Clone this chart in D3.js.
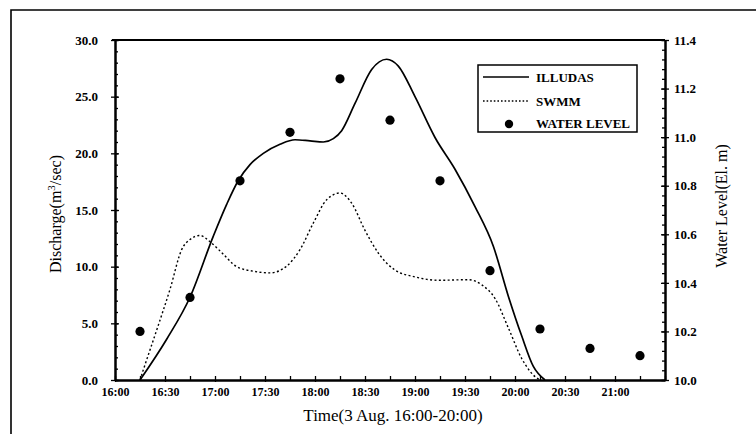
<!DOCTYPE html>
<html>
<head>
<meta charset="utf-8">
<script src="https://cdn.jsdelivr.net/npm/d3@7"></script>
<style>
  html, body { margin: 0; padding: 0; background: #fff; }
  svg { display: block; }
  text { font-family: "Liberation Serif", "DejaVu Serif", serif; fill: #000; }
</style>
</head>
<body>
<script>
// ---------- data ----------
const illudasTimes = ["16:15","16:31","16:45","16:59","17:07","17:14","17:21","17:29","17:39","17:48","17:57","18:05","18:11","18:16","18:24","18:34","18:43","18:50","19:00","19:12","19:24","19:36","19:47","19:56","20:04","20:11","20:18"];
const illudasQ     = [0, 3.6, 7.3, 12.7, 15.5, 17.6, 19.0, 20.0, 20.8, 21.2, 21.1, 21.0, 21.3, 22.0, 24.4, 27.4, 28.3, 27.7, 25.0, 21.4, 18.6, 15.3, 11.8, 7.4, 3.9, 1.2, 0];

const swmmTimes = ["16:15","16:17","16:25","16:33","16:40","16:45","16:51","16:57","17:05","17:13","17:23","17:33","17:43","17:51","17:59","18:07","18:15","18:22","18:30","18:38","18:48","19:00","19:14","19:32","19:40","19:48","19:56","20:04","20:12","20:15"];
const swmmQ     = [0, 0.9, 4.4, 8.0, 11.5, 12.4, 12.75, 12.2, 11.1, 10.0, 9.6, 9.45, 10.05, 11.5, 13.85, 15.9, 16.5, 15.6, 13.2, 11.2, 9.7, 9.1, 8.8, 8.85, 8.4, 7.2, 4.6, 1.9, 0.3, 0];

const levelTimes = ["16:15","16:45","17:15","17:45","18:15","18:45","19:15","19:45","20:15","20:45","21:15"];
const levelValues = [10.20, 10.34, 10.82, 11.02, 11.24, 11.07, 10.82, 10.45, 10.21, 10.13, 10.10];

const xTickLabels = ["16:00","16:30","17:00","17:30","18:00","18:30","19:00","19:30","20:00","20:30","21:00"];
const leftTicks = [0, 5, 10, 15, 20, 25, 30];
const rightTicks = [10.0, 10.2, 10.4, 10.6, 10.8, 11.0, 11.2, 11.4];
const legendLabels = ["ILLUDAS", "SWMM", "WATER LEVEL"];

// ---------- layout ----------
const W = 756, H = 434;
const L = 115, R = 665, T = 40, B = 380;
const parse = d3.timeParse("%H:%M");

const svg = d3.select("body").append("svg").attr("width", W).attr("height", H);

const x = d3.scaleTime().domain([parse("16:00"), parse("21:30")]).range([L, R]);
const yL = d3.scaleLinear().domain([0, 30]).range([B, T]);
const yR = d3.scaleLinear().domain([10, 11.4]).range([B, T]);

// outer scanned frame
svg.append("path").attr("d", `M11,${H} V10 H${W}`)
  .attr("fill", "none").attr("stroke", "#000").attr("stroke-width", 1.6);

// top border of plot
svg.append("line").attr("x1", L - 3).attr("x2", R).attr("y1", T).attr("y2", T)
  .attr("stroke", "#000").attr("stroke-width", 2);

// ---------- axes ----------
function styleAxis(g, fontSize) {
  g.selectAll(".domain").attr("stroke", "#000").attr("stroke-width", 2);
  g.selectAll(".tick line").attr("stroke", "#000").attr("stroke-width", 1.3);
  g.selectAll("text").style("font-family", "'Liberation Serif', serif")
    .style("font-weight", "bold").style("font-size", fontSize + "px").attr("fill", "#000");
}

// x axis: minor 15-min ticks inward
const xMinor = d3.timeMinute.every(15).range(parse("16:00"), parse("21:31"));
const gxMinor = svg.append("g").attr("transform", `translate(0,${B})`)
  .call(d3.axisBottom(x).tickValues(xMinor).tickSizeInner(-4).tickSizeOuter(0).tickFormat(""));
styleAxis(gxMinor, 12);
const gx = svg.append("g").attr("transform", `translate(0,${B})`)
  .call(d3.axisBottom(x).tickValues(xTickLabels.map(parse)).tickSizeInner(2).tickSizeOuter(0)
    .tickPadding(5).tickFormat(d3.timeFormat("%H:%M")));
styleAxis(gx, 12);

// left axis
const gyLMinor = svg.append("g").attr("transform", `translate(${L},0)`)
  .call(d3.axisLeft(yL).tickValues(d3.range(0, 31, 1)).tickSizeInner(-3).tickSizeOuter(0).tickFormat(""));
styleAxis(gyLMinor, 13);
const gyL = svg.append("g").attr("transform", `translate(${L},0)`)
  .call(d3.axisLeft(yL).tickValues(leftTicks).tickSizeInner(4).tickSizeOuter(0)
    .tickPadding(13).tickFormat(d3.format(".1f")));
styleAxis(gyL, 13);
gyL.selectAll(".tick").append("line").attr("x2", 4).attr("stroke", "#000").attr("stroke-width", 1.3);

// right axis
const gyRMinor = svg.append("g").attr("transform", `translate(${R},0)`)
  .call(d3.axisRight(yR).tickValues(d3.range(0, 36).map(i => 10 + i * 0.04)).tickSizeInner(-3).tickSizeOuter(0).tickFormat(""));
styleAxis(gyRMinor, 13);
const gyR = svg.append("g").attr("transform", `translate(${R},0)`)
  .call(d3.axisRight(yR).tickValues(rightTicks).tickSizeInner(4).tickSizeOuter(0)
    .tickPadding(5).tickFormat(d3.format(".1f")));
styleAxis(gyR, 13);
gyR.selectAll(".tick").append("line").attr("x2", -4).attr("stroke", "#000").attr("stroke-width", 1.3);

// ---------- series ----------
const illudas = illudasTimes.map((t, i) => ({ t: parse(t), v: illudasQ[i] }));
const swmm = swmmTimes.map((t, i) => ({ t: parse(t), v: swmmQ[i] }));
const level = levelTimes.map((t, i) => ({ t: parse(t), v: levelValues[i] }));

const line = d3.line().x(d => x(d.t)).y(d => yL(d.v)).curve(d3.curveMonotoneX);

svg.append("path").datum(illudas).attr("d", line)
  .attr("fill", "none").attr("stroke", "#000").attr("stroke-width", 1.7);
svg.append("path").datum(swmm).attr("d", line)
  .attr("fill", "none").attr("stroke", "#000").attr("stroke-width", 1.4)
  .attr("stroke-dasharray", "2,2.4");

svg.append("g").selectAll("circle").data(level).join("circle")
  .attr("cx", d => x(d.t)).attr("cy", d => yR(d.v)).attr("r", 4.6).attr("fill", "#000");

// ---------- legend ----------
const lg = svg.append("g");
lg.append("rect").attr("x", 478).attr("y", 65).attr("width", 159).attr("height", 67)
  .attr("fill", "#fff").attr("stroke", "#000").attr("stroke-width", 1.5);
const ly = [77, 101, 123];
lg.append("line").attr("x1", 483).attr("x2", 529).attr("y1", ly[0]).attr("y2", ly[0])
  .attr("stroke", "#000").attr("stroke-width", 1.4);
lg.append("line").attr("x1", 483).attr("x2", 529).attr("y1", ly[1]).attr("y2", ly[1])
  .attr("stroke", "#000").attr("stroke-width", 1.3).attr("stroke-dasharray", "1.6,2");
lg.append("circle").attr("cx", 509).attr("cy", ly[2] + 1).attr("r", 4.2).attr("fill", "#000");
lg.selectAll("text.leg").data(legendLabels).join("text").attr("class", "leg")
  .attr("x", 536).attr("y", (d, i) => ly[i] + 4.5)
  .style("font-weight", "bold").style("font-size", "13px").text(d => d);

// ---------- axis titles ----------
const leftTitle = svg.append("text")
  .attr("transform", `translate(61,${(T + B) / 2 + 4}) rotate(-90)`)
  .attr("text-anchor", "middle").style("font-size", "16px");
leftTitle.append("tspan").text("Discharge(m");
leftTitle.append("tspan").attr("dy", -6).style("font-size", "11px").text("3");
leftTitle.append("tspan").attr("dy", 6).text("/sec)");

svg.append("text")
  .attr("transform", `translate(727,${(T + B) / 2 - 4}) rotate(-90)`)
  .attr("text-anchor", "middle").style("font-size", "16px")
  .text("Water Level(El. m)");

svg.append("text").attr("x", 393).attr("y", 421).attr("text-anchor", "middle")
  .style("font-size", "17px").text("Time(3 Aug. 16:00-20:00)");
</script>
</body>
</html>
